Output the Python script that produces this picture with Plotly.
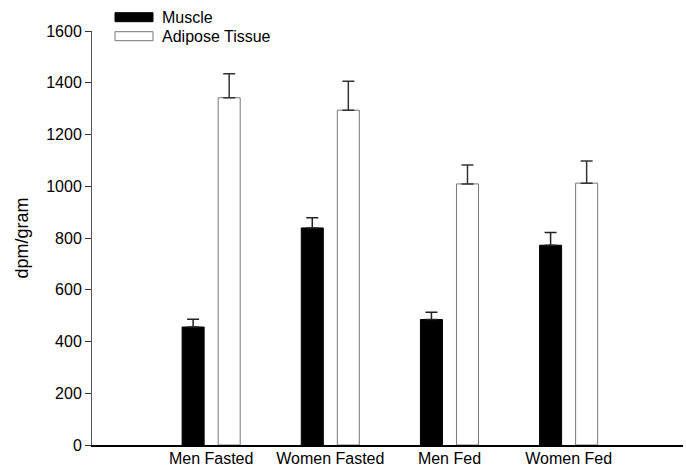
import plotly.graph_objects as go

categories = ["Men Fasted", "Women Fasted", "Men Fed", "Women Fed"]
muscle = [456, 839, 485, 772]
muscle_err = [30, 39, 28, 49]
adipose = [1342, 1294, 1009, 1012]
adipose_err = [93, 112, 73, 86]
y_ticks = [0, 200, 400, 600, 800, 1000, 1200, 1400, 1600]
legend_names = ["Muscle", "Adipose Tissue"]

W, H = 686, 466
ML, MR, MT, MB = 92, 3, 31, 21
PW, PH = W - ML - MR, H - MT - MB


def px_x(p):
    return (p - ML) / PW


def px_y(p):
    return (H - MB - p) / PH


fig = go.Figure()
fig.add_trace(go.Bar(
    name=legend_names[0], x=categories, y=muscle,
    marker=dict(color="black", line=dict(color="black", width=1)),
    error_y=dict(type="data", symmetric=False, array=muscle_err,
                 arrayminus=[0] * len(muscle_err), color="#222", thickness=1.5, width=6),
))
fig.add_trace(go.Bar(
    name=legend_names[1], x=categories, y=adipose,
    marker=dict(color="white", line=dict(color="#777", width=1)),
    error_y=dict(type="data", symmetric=False, array=adipose_err,
                 arrayminus=[0] * len(adipose_err), color="#333", thickness=1.5, width=6),
))

# manual legend (wide swatches like the reference)
swatch_fill = ["black", "white"]
swatch_line = ["black", "#777"]
for i, name in enumerate(legend_names):
    top = 12.7 + i * 19
    fig.add_shape(type="rect", xref="paper", yref="paper",
                  x0=px_x(115), x1=px_x(153), y0=px_y(top + 9), y1=px_y(top),
                  fillcolor=swatch_fill[i], line=dict(color=swatch_line[i], width=1))
    fig.add_annotation(xref="paper", yref="paper", x=px_x(160), y=px_y(top + 4.5),
                       text=name, showarrow=False, xanchor="left", yanchor="middle",
                       font=dict(size=16, color="black"))

fig.update_layout(
    width=W, height=H,
    barmode="group", bargap=0.395, bargroupgap=0.389,
    paper_bgcolor="white", plot_bgcolor="white",
    margin=dict(l=ML, r=MR, t=MT, b=MB),
    font=dict(family="Liberation Sans, Arial, sans-serif", size=16, color="black"),
    showlegend=False,
    xaxis=dict(range=[-1, 3.96], showline=True, linecolor="black", linewidth=1.5,
               ticks="", showgrid=False, zeroline=False, automargin=False,
               tickfont=dict(size=16), ticklabelstandoff=-2),
    yaxis=dict(range=[0, 1600], tickvals=y_ticks, showline=True, linecolor="#555",
               linewidth=1, ticks="outside", ticklen=6, tickcolor="#333",
               showgrid=False, zeroline=False, automargin=False,
               title=dict(text="dpm/gram", font=dict(size=18), standoff=12),
               tickfont=dict(size=16)),
)

fig.write_html("out.html", config={"displayModeBar": False},
               post_script="document.body.style.margin='0';document.body.style.overflow='hidden';")
